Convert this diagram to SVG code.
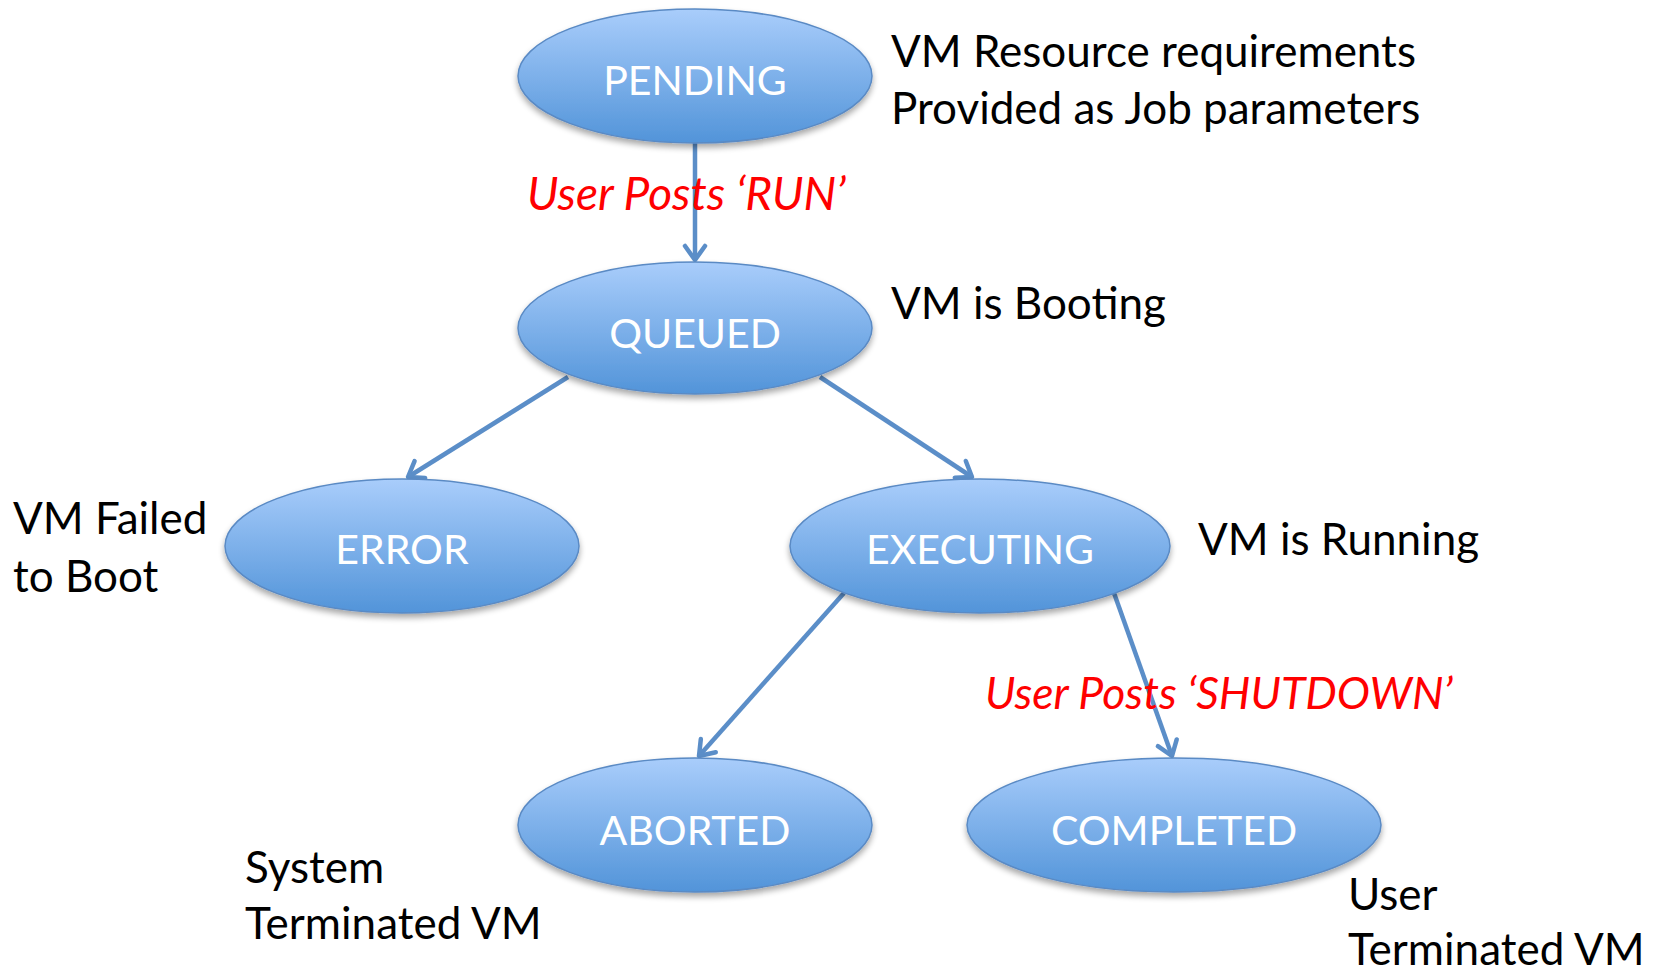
<svg xmlns="http://www.w3.org/2000/svg" width="1658" height="976" viewBox="0 0 1658 976">
<defs>
<linearGradient id="g" x1="0" y1="0" x2="0" y2="1">
<stop offset="0" stop-color="#a9cdfb"/>
<stop offset="1" stop-color="#5294d9"/>
</linearGradient>
<filter id="sh" x="-10%" y="-10%" width="120%" height="130%">
<feGaussianBlur in="SourceAlpha" stdDeviation="3"/>
<feOffset dx="0" dy="4" result="b"/>
<feComponentTransfer><feFuncA type="linear" slope="0.35"/></feComponentTransfer>
<feMerge><feMergeNode/><feMergeNode in="SourceGraphic"/></feMerge>
</filter>
<marker id="ah" markerUnits="userSpaceOnUse" markerWidth="34" markerHeight="34" refX="17" refY="17" orient="auto" viewBox="0 0 34 34">
<path d="M3,7 L17,17 L3,27" fill="none" stroke="#5b8ec8" stroke-width="4.5" stroke-linecap="round" stroke-linejoin="round"/>
</marker>
<style>
.n{fill:url(#g);stroke:#5a8ac4;stroke-width:1.5;filter:url(#sh)}
.l{font-family:Lato,"Liberation Sans",sans-serif;font-size:41px;fill:#ffffff;text-anchor:middle}
.a{font-family:Lato,"Liberation Sans",sans-serif;font-size:44px;fill:#000000}
.r{font-family:Lato,"Liberation Sans",sans-serif;font-size:46px;font-style:italic;fill:#ff0000}
.c{fill:none;stroke:#5b8ec8;stroke-width:4.5;marker-end:url(#ah)}
</style>
</defs>
<rect width="1658" height="976" fill="#ffffff"/>
<g id="connectors">
<line class="c" x1="695" y1="143" x2="695" y2="260"/>
<line class="c" x1="568" y1="377" x2="408" y2="477"/>
<line class="c" x1="820" y1="377" x2="972" y2="477"/>
<line class="c" x1="844" y1="593" x2="699" y2="756"/>
<line class="c" x1="1114" y1="593" x2="1172" y2="756"/>
</g>
<g id="pending"><ellipse class="n" cx="695" cy="76" rx="177" ry="67"/><text class="l" x="695" y="95">PENDING</text></g>
<g id="queued"><ellipse class="n" cx="695" cy="328" rx="177" ry="66"/><text class="l" x="695" y="348">QUEUED</text></g>
<g id="error"><ellipse class="n" cx="402" cy="546" rx="177" ry="67"/><text class="l" x="402" y="564">ERROR</text></g>
<g id="executing"><ellipse class="n" cx="980" cy="546" rx="190" ry="67"/><text class="l" x="980" y="564">EXECUTING</text></g>
<g id="aborted"><ellipse class="n" cx="695" cy="825" rx="177" ry="67"/><text class="l" x="695" y="845">ABORTED</text></g>
<g id="completed"><ellipse class="n" cx="1174" cy="825" rx="207" ry="67"/><text class="l" x="1174" y="845">COMPLETED</text></g>
<g id="labels">
<text class="r" x="527" y="210">User Posts ‘RUN’</text>
<text class="r" x="985" y="709" style="font-size:44.5px">User Posts ‘SHUTDOWN’</text>
<text class="a" x="891" y="67">VM Resource requirements</text>
<text class="a" x="891" y="124">Provided as Job parameters</text>
<text class="a" x="891" y="319">VM is Booting</text>
<text class="a" x="13" y="534">VM Failed</text>
<text class="a" x="13" y="592">to Boot</text>
<text class="a" x="1198" y="555">VM is Running</text>
<text class="a" x="245" y="883">System</text>
<text class="a" x="245" y="939">Terminated VM</text>
<text class="a" x="1348" y="910">User</text>
<text class="a" x="1348" y="965">Terminated VM</text>
</g>
</svg>
